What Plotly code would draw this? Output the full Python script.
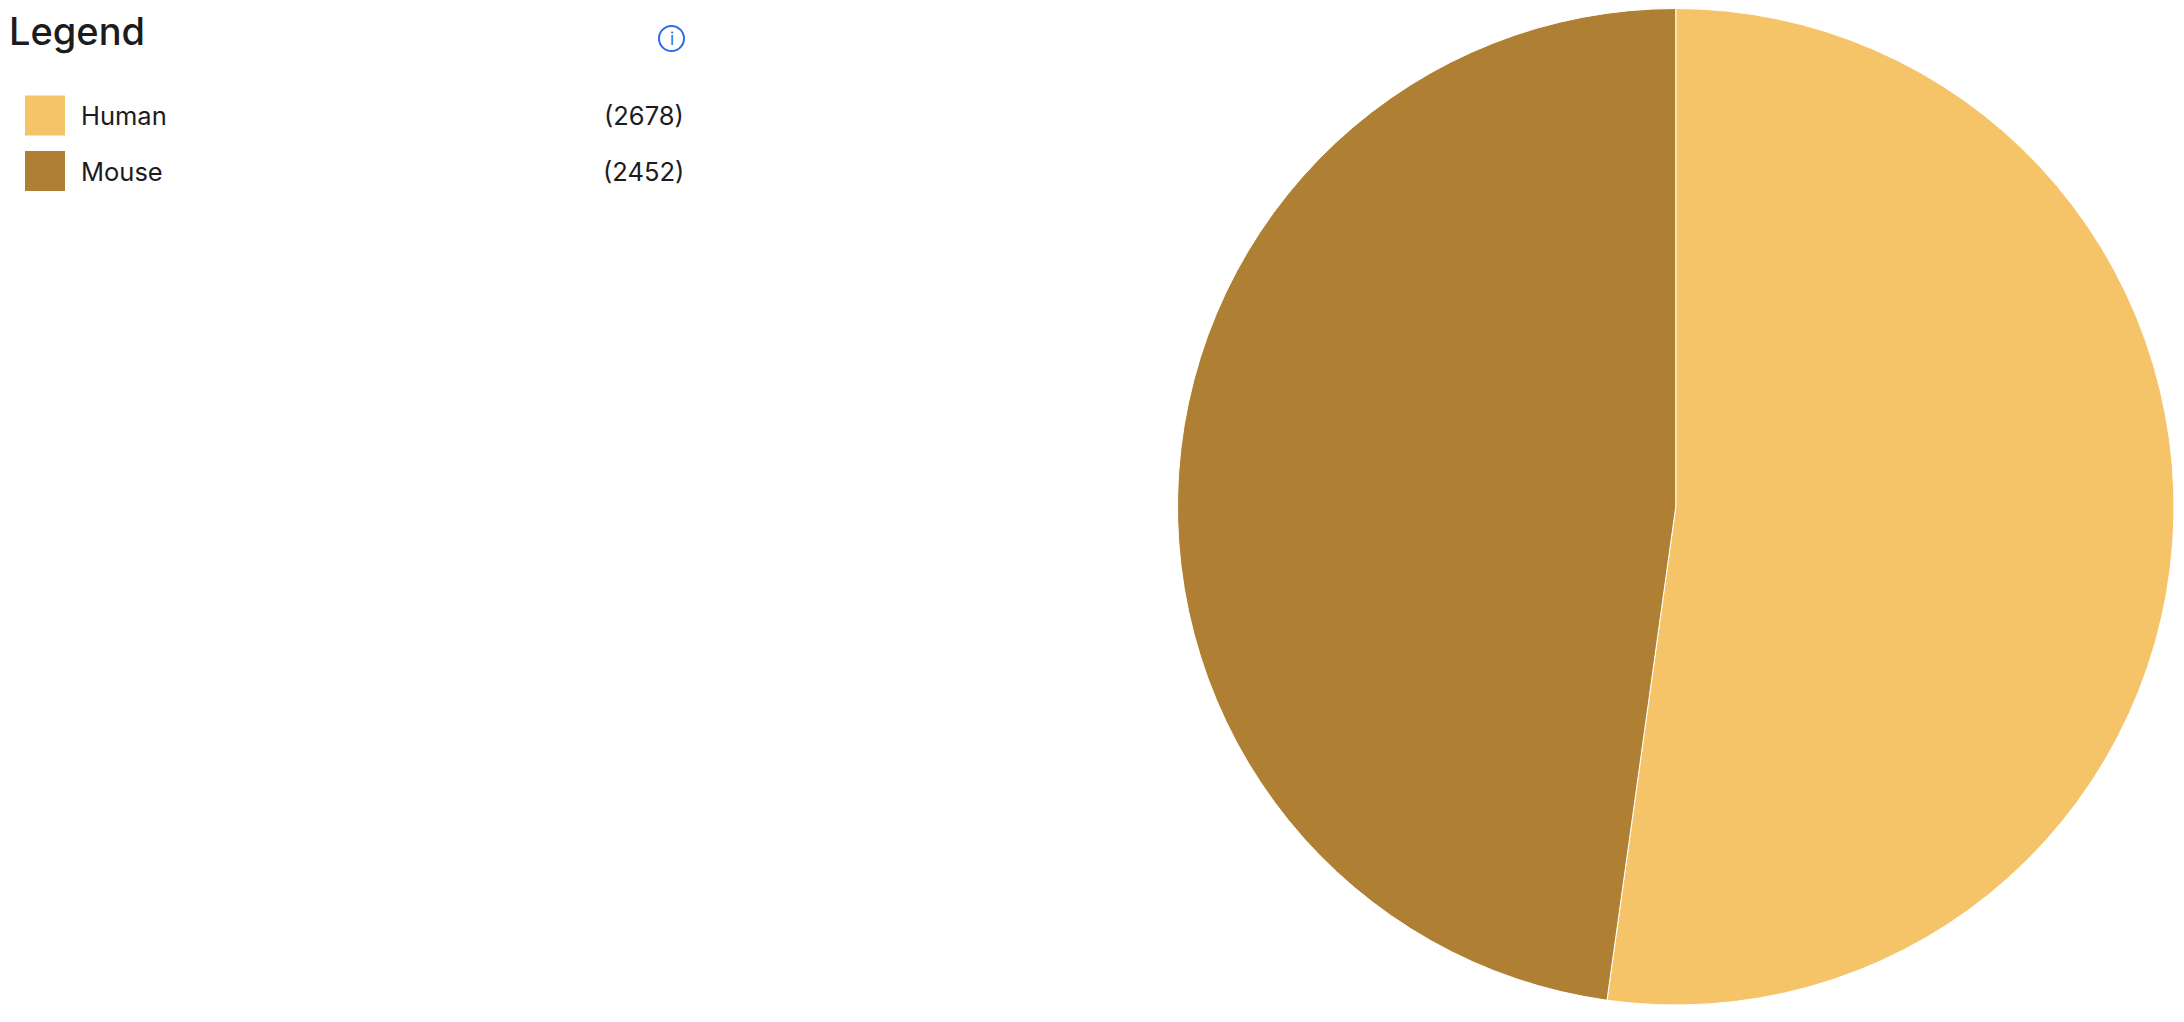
import plotly.graph_objects as go

species = ["Human", "Mouse"]
counts = [2678, 2452]
colors = ["#F5C469", "#AF8033"]
legend_title = "Legend"

# page keeps its default 8px body margin, so plot size is window minus margins
W = 2168
H = 1006
OFF = 8


def px(x):
    return (x - OFF) / W


def py(y):
    return 1 - (y - OFF) / H


fig = go.Figure()
fig.add_trace(go.Pie(
    labels=species,
    values=counts,
    marker=dict(colors=colors, line=dict(color="white", width=1)),
    sort=False,
    direction="clockwise",
    rotation=0,
    textinfo="none",
    showlegend=False,
    domain=dict(x=[px(1177.5), px(2174)], y=[py(1005.5), py(8)]),
))

font_name = "Inter"
ink = "#1c1c1e"

fig.add_annotation(x=px(7), y=py(31), text=legend_title, showarrow=False,
                   xref="paper", yref="paper", xanchor="left", yanchor="middle",
                   font=dict(family=font_name, size=38, color=ink, weight=500))

rows_y = [115.5, 171]
for name, n, col, ry in zip(species, counts, colors, rows_y):
    fig.add_shape(type="rect", xref="paper", yref="paper",
                  x0=px(25), x1=px(65), y0=py(ry + 20), y1=py(ry - 20),
                  fillcolor=col, line_width=0)
    fig.add_annotation(x=px(79), y=py(ry), text=name, showarrow=False,
                       xref="paper", yref="paper", xanchor="left", yanchor="middle",
                       font=dict(family=font_name, size=25.5, color=ink))
    fig.add_annotation(x=px(686), y=py(ry), text="(%d)" % n, showarrow=False,
                       xref="paper", yref="paper", xanchor="right", yanchor="middle",
                       font=dict(family=font_name, size=25.5, color=ink))

# info icon
fig.add_shape(type="circle", xref="paper", yref="paper",
              x0=px(659), x1=px(684), y0=py(51), y1=py(26),
              line=dict(color="#2f6bea", width=2))
fig.add_annotation(x=px(671.5), y=py(39), text="i", showarrow=False,
                   xref="paper", yref="paper", xanchor="center", yanchor="middle",
                   font=dict(family=font_name, size=17, color="#2f6bea"))

fig.update_layout(
    width=W,
    height=H,
    margin=dict(l=0, r=0, t=0, b=0),
    paper_bgcolor="white",
    plot_bgcolor="white",
)

fig.write_html("out.html")
